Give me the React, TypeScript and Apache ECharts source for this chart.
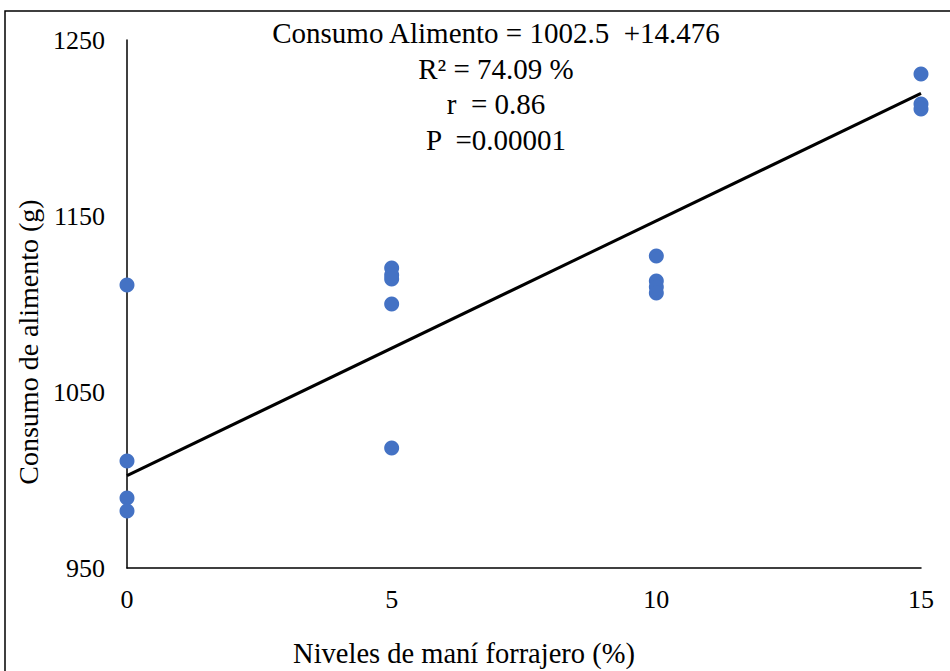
import React, { useEffect, useRef } from "react";
import * as echarts from "echarts";

const levels0 = [0, 0, 0, 0];
const values0 = [1110.8, 1010.8, 989.8, 982.4];
const levels5 = [5, 5, 5, 5, 5];
const values5 = [1120.5, 1116.5, 1114.2, 1100, 1018.2];
const levels10 = [10, 10, 10, 10];
const values10 = [1127.3, 1113, 1109.7, 1106.3];
const levels15 = [15, 15, 15];
const values15 = [1230.7, 1213.6, 1210.8];

const intercept = 1002.5;
const slope = 14.476;
const lineX = [0, 15];

const annotationLines = [
  "Consumo Alimento = 1002.5  +14.476",
  "R² = 74.09 %",
  "r  = 0.86",
  "P  =0.00001",
];

const xTicks = [0, 5, 10, 15];
const yTicks = [950, 1050, 1150, 1250];

const FONT = "Liberation Serif";

export default function App() {
  const ref = useRef<HTMLDivElement>(null);
  useEffect(() => {
    if (!ref.current) return;
    const chart = echarts.init(ref.current, null, { renderer: "svg" });
    const pts: number[][] = [];
    [
      [levels0, values0],
      [levels5, values5],
      [levels10, values10],
      [levels15, values15],
    ].forEach(([xs, ys]) => xs.forEach((x, i) => pts.push([x, ys[i]])));
    const linePts = lineX.map((x) => [x, intercept + slope * x]);
    chart.setOption({
      animation: false,
      backgroundColor: "#fff",
      textStyle: { fontFamily: FONT },
      grid: { left: 127, right: 29, top: 40, bottom: 103, outerBoundsMode: "none", containLabel: false },
      xAxis: {
        type: "value",
        min: xTicks[0],
        max: xTicks[xTicks.length - 1],
        interval: 5,
        name: "Niveles de maní forrajero (%)",
        nameLocation: "middle",
        nameGap: 71,
        nameTextStyle: { color: "#000", fontSize: 28.5, fontFamily: FONT, padding: [0, 120, 0, 0] },
        axisLine: { lineStyle: { color: "#000", width: 1.5 } },
        axisTick: { show: false },
        splitLine: { show: false },
        axisLabel: { color: "#000", fontSize: 26, fontFamily: FONT, margin: 18 },
      },
      yAxis: {
        type: "value",
        min: yTicks[0],
        max: yTicks[yTicks.length - 1],
        interval: 100,
        name: "Consumo de alimento (g)",
        nameLocation: "middle",
        nameGap: 84,
        nameTextStyle: { color: "#000", fontSize: 28, fontFamily: FONT, padding: [0, 76, 0, 0] },
        axisLine: { show: true, lineStyle: { color: "#000", width: 1.5 } },
        axisTick: { show: false },
        splitLine: { show: false },
        axisLabel: {
          color: "#000",
          fontSize: 26,
          fontFamily: FONT,
          margin: 22,
          formatter: (v: number) => String(v),
        },
      },
      series: [
        {
          type: "line",
          data: linePts,
          symbol: "none",
          lineStyle: { color: "#000", width: 3 },
          z: 3,
        },
        {
          type: "scatter",
          data: pts,
          symbolSize: 15,
          itemStyle: { color: "#4472C4", opacity: 1 },
          z: 4,
        },
      ],
      graphic: [
        {
          type: "rect",
          shape: { x: 5, y: 11, width: 1000, height: 700 },
          style: { fill: "none", stroke: "#000", lineWidth: 1.5 },
          silent: true,
        },
        ...annotationLines.map((t, i) => ({
          type: "text",
          x: 496,
          y: 33 + i * 35.5,
          style: {
            text: t,
            fill: "#000",
            fontSize: 29,
            fontFamily: FONT,
            textAlign: "center",
            textVerticalAlign: "middle",
          },
        })),
      ],
    });
    return () => chart.dispose();
  }, []);
  return <div ref={ref} style={{ width: 950, height: 671, position: "absolute", left: 0, top: 0 }} />;
}
